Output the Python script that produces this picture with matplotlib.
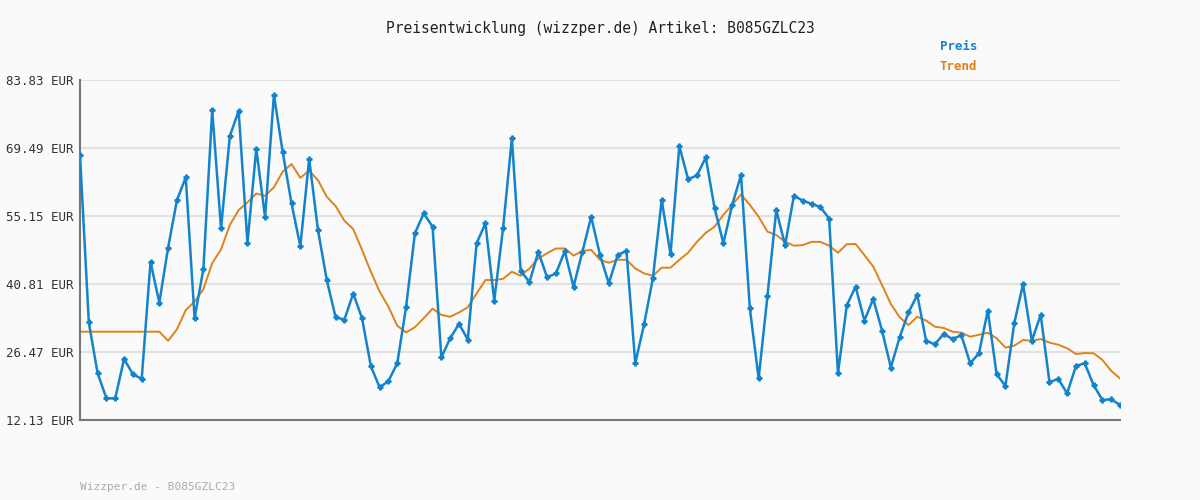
import matplotlib
matplotlib.use("Agg")
import matplotlib.pyplot as plt

# price values (EUR)
preis = [68.0, 32.7, 21.97, 16.7, 16.7, 25.0, 21.8, 20.8, 45.45, 36.9,
         48.5, 58.5, 63.3, 33.6, 44.0, 77.5, 52.55, 72.0, 77.3, 49.5,
         69.3, 54.9, 80.7, 68.6, 57.8, 48.75, 67.2, 52.2, 41.65, 33.8,
         33.3, 38.8, 33.6, 23.5, 19.0, 20.35, 24.1, 36.0, 51.5, 55.7,
         52.9, 25.35, 29.35, 32.4, 29.1, 49.4, 53.6, 37.3, 52.55, 71.5,
         43.6, 41.2, 47.6, 42.2, 43.05, 47.7, 40.25, 47.6, 55.0, 46.9,
         40.95, 46.9, 47.8, 24.1, 32.3, 42.0, 58.5, 47.1, 69.9, 62.9,
         63.7, 67.5, 56.8, 49.4, 57.5, 63.8, 35.7, 20.9, 38.3, 56.4,
         49.0, 59.4, 58.4, 57.7, 57.05, 54.6, 21.97, 36.3, 40.25, 33.1,
         37.65, 31.0, 23.2, 29.6, 34.8, 38.5, 28.8, 28.1, 30.3, 29.2,
         30.0, 24.1, 26.2, 35.2, 21.8, 19.3, 32.5, 40.8, 28.85, 34.3,
         20.1, 20.8, 17.75, 23.5, 24.1, 19.5, 16.35, 16.5, 15.3]

trend = [30.75] * 10 + [
         28.85, 31.25, 35.3, 37.1, 39.7, 45.2, 48.1, 53.25, 56.4, 58.0,
         59.9, 59.4, 61.2, 64.5, 66.1, 63.2, 64.7, 62.7, 59.2, 57.25,
         54.15, 52.4, 48.0, 43.4, 39.2, 36.0, 32.0, 30.6, 31.7, 33.6,
         35.6, 34.3, 33.9, 34.8, 35.9, 38.8, 41.65, 41.65, 41.9, 43.4,
         42.55, 44.1, 46.2, 47.3, 48.3, 48.3, 46.8, 47.8, 48.0, 45.9,
         45.3, 45.9, 45.9, 44.1, 43.05, 42.55, 44.25, 44.25, 45.9, 47.4,
         49.7, 51.6, 52.9, 55.4, 57.5, 59.7, 57.5, 55.0, 51.85, 51.15,
         49.7, 48.9, 49.0, 49.7, 49.7, 48.9, 47.4, 49.2, 49.25, 46.9,
         44.5, 40.6, 36.6, 33.8, 32.15, 33.9, 33.1, 31.8, 31.55, 30.75,
         30.55, 29.7, 30.1, 30.55, 29.35, 27.4, 27.8, 29.0, 28.85, 29.2,
         28.45, 28.0, 27.25, 26.05, 26.25, 26.2, 24.8, 22.5, 20.9]

yticks = [12.13, 26.47, 40.81, 55.15, 69.49, 83.83]
artikel = "B085GZLC23"

blue = "#1383cc"
orange = "#e0821a"
bg = "#fafafa"
mono = ["DejaVu Sans Mono"]

fig = plt.figure(figsize=(12, 5), dpi=100, facecolor=bg)
ax = fig.add_axes([80 / 1200, 80 / 500, 1040 / 1200, 340 / 500], facecolor=bg)

x = list(range(len(preis)))
ax.plot(x, preis, color=blue, lw=1.8, marker="P", ms=3.5, zorder=3)
ax.plot(range(len(trend)), trend, color=orange, lw=1.4, zorder=2)

ax.set_xlim(0, len(preis) - 1)
ax.set_ylim(yticks[0], yticks[-1])
ax.set_yticks(yticks)
ax.set_yticklabels(["%.2f EUR" % v for v in yticks], family=mono, fontsize=9, color="#333333")
ax.set_xticks([])
ax.grid(axis="y", color="#e2e2e2", lw=1.5)
ax.tick_params(axis="y", length=0, pad=5)
for s in ["top", "right"]:
    ax.spines[s].set_visible(False)
for s in ["left", "bottom"]:
    ax.spines[s].set_color("#777777")
    ax.spines[s].set_linewidth(1.5)

fig.text(0.5, 1 - 28 / 500, "Preisentwicklung (wizzper.de) Artikel: " + artikel,
         ha="center", va="center", family=mono, fontsize=10.5, color="#222222")
fig.text(940 / 1200, 1 - 47 / 500, "Preis", family=mono, fontsize=9, color=blue,
         fontweight="bold", va="center")
fig.text(940 / 1200, 1 - 67 / 500, "Trend", family=mono, fontsize=9, color=orange,
         fontweight="bold", va="center")
fig.text(80 / 1200, 1 - 487 / 500, "Wizzper.de - " + artikel, family=mono, fontsize=8,
         color="#aaaaaa", va="center")

fig.savefig("out.png", dpi=100, facecolor=bg)
